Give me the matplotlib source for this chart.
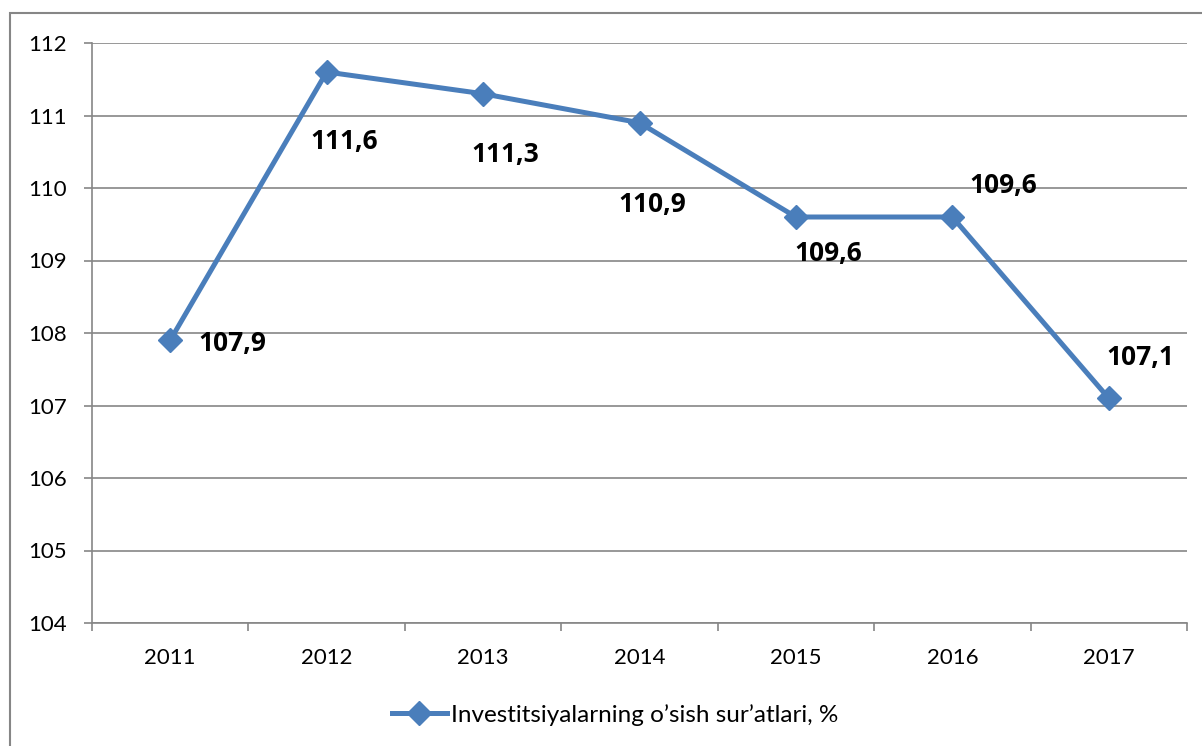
import matplotlib.pyplot as plt
import matplotlib.patches as patches
import numpy as np

years = ["2011", "2012", "2013", "2014", "2015", "2016", "2017"]
growth = [107.9, 111.6, 111.3, 110.9, 109.6, 109.6, 107.1]
value_labels = ["107,9", "111,6", "111,3", "110,9", "109,6", "109,6", "107,1"]
series_name = "Investitsiyalarning o\u2019sish sur\u2019atlari, %"

# label offsets in points (hand placed like in the original)
label_offsets = [(45, -2), (13, -50), (16, -44), (9, -59), (23, -26), (37, 23), (23, 29)]

plt.rcParams['font.family'] = ['Lato', 'DejaVu Sans']

line_color = "#4A7EBB"
grid_color = "#868686"

fig = plt.figure(figsize=(12.02, 7.46), dpi=100)
ax = fig.add_axes([92 / 1202, 123 / 746, 1095 / 1202, 580 / 746])

x = np.arange(len(years))
line, = ax.plot(x, growth, color=line_color, linewidth=3.6, marker="D",
                markersize=12, label=series_name, zorder=3, clip_on=False)

for xi, yi, txt, off in zip(x, growth, value_labels, label_offsets):
    ax.annotate(txt, (xi, yi), xytext=off, textcoords="offset points",
                ha="center", va="center", fontsize=19, fontweight="bold",
                family=["Open Sans", "DejaVu Sans"])

ax.set_xlim(-0.5, len(years) - 0.5)
ax.set_ylim(104, 112)
ax.set_yticks(np.arange(104, 113, 1))
ax.set_xticks(x)
ax.set_xticklabels(years)
ax.set_xticks(np.arange(-0.5, len(years), 1), minor=True)

ax.grid(axis="y", color=grid_color, linewidth=1.2)
ax.set_axisbelow(True)
for s in ["top", "right"]:
    ax.spines[s].set_visible(False)
for s in ["left", "bottom"]:
    ax.spines[s].set_color(grid_color)
    ax.spines[s].set_linewidth(1.2)

ax.tick_params(axis="y", length=6, color=grid_color, width=1.2, pad=12, labelsize=16)
ax.tick_params(axis="x", which="major", length=0, pad=18, labelsize=16)
ax.tick_params(axis="x", which="minor", length=6, color=grid_color, width=1.2)

fig.legend(handles=[line], loc="center", bbox_to_anchor=(615 / 1202, 31 / 746),
           frameon=False, fontsize=17.5, handlelength=2.3, handletextpad=0.15)

# outer chart border
border = patches.Rectangle((9.5 / 1202, -0.05), 1.1, (746 - 13.5) / 746 + 0.05,
                           transform=fig.transFigure, fill=False,
                           edgecolor=grid_color, linewidth=1.5, clip_on=False)
fig.patches.append(border)

fig.savefig("out.png", dpi=100)
